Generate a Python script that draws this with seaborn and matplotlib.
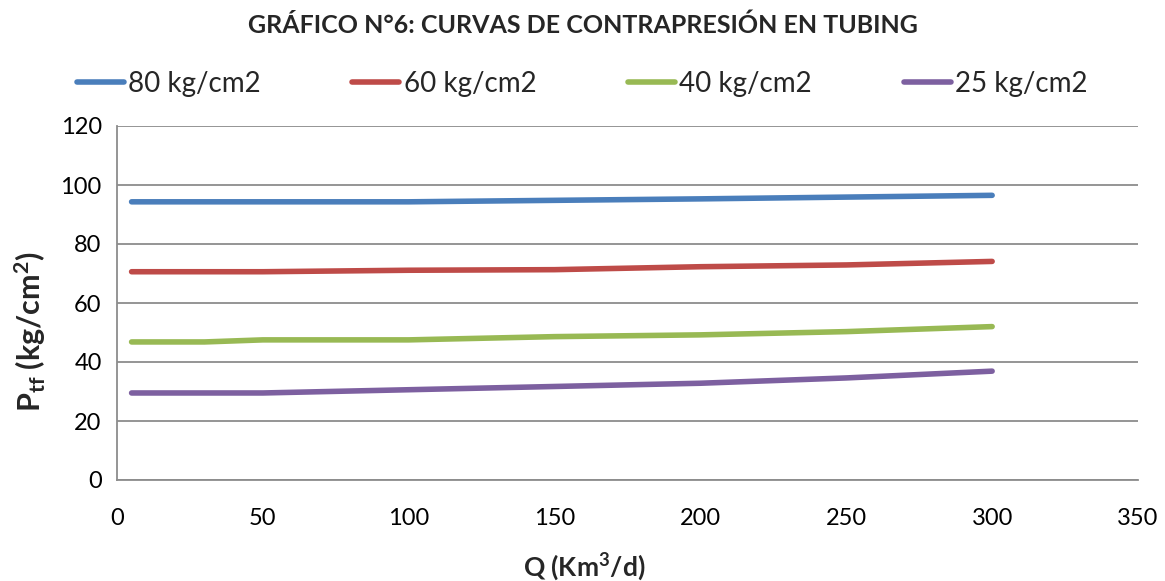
import matplotlib
matplotlib.use("Agg")
import matplotlib.pyplot as plt
import seaborn as sns
import pandas as pd

q = [5, 30, 50, 100, 150, 200, 250, 300]
p80 = [94.3, 94.3, 94.3, 94.3, 94.8, 95.3, 95.9, 96.5]
p60 = [70.6, 70.6, 70.6, 71.1, 71.3, 72.3, 72.9, 74.1]
p40 = [46.8, 46.8, 47.5, 47.5, 48.6, 49.2, 50.3, 52.0]
p25 = [29.5, 29.5, 29.5, 30.6, 31.7, 32.8, 34.6, 36.9]
labels = ["80 kg/cm2", "60 kg/cm2", "40 kg/cm2", "25 kg/cm2"]
colors = ["#4A7EBB", "#BE4B48", "#98B954", "#7D60A0"]

frames = []
for lab, vals in zip(labels, [p80, p60, p40, p25]):
    frames.append(pd.DataFrame({"Q": q, "P": vals, "serie": lab}))
df = pd.concat(frames, ignore_index=True)

sns.set_theme(style="white")
plt.rcParams['font.family'] = ['Lato', 'DejaVu Sans']
plt.rcParams['mathtext.fontset'] = 'custom'
plt.rcParams['mathtext.rm'] = 'Lato'
plt.rcParams['mathtext.bf'] = 'Lato:bold'
plt.rcParams['mathtext.it'] = 'Lato:italic'

fig = plt.figure(figsize=(11.65, 5.81), dpi=100)
ax = fig.add_axes([117/1165, 1 - 480/581, (1138-117)/1165, (480-126)/581])

sns.lineplot(data=df, x="Q", y="P", hue="serie", palette=colors,
             hue_order=labels, linewidth=4, ax=ax, legend=False,
             solid_capstyle="round")

ax.set_xlim(0, 350)
ax.set_ylim(0, 120)
ax.set_xticks(range(0, 351, 50))
ax.set_yticks(range(0, 121, 20))
ax.yaxis.grid(True, color="#8C8C8C", linewidth=1.3)
ax.set_axisbelow(True)
for s in ["top", "right"]:
    ax.spines[s].set_visible(False)
for s in ["left", "bottom"]:
    ax.spines[s].set_color("#8C8C8C")
    ax.spines[s].set_linewidth(1.3)
ax.tick_params(axis="both", direction="out", length=6, width=1.3,
               color="#8C8C8C", labelsize=17, labelcolor="black")
ax.tick_params(axis="x", pad=14)
ax.tick_params(axis="y", pad=5)
ax.set_xlabel("")
ax.set_ylabel("")

fig.text(584/1165, 1 - 567/581, r"Q (Km$\mathbf{^3}$/d)", ha="center", va="center",
         fontsize=19, fontweight="bold")
fig.text(30/1165, 1 - 332/581, r"P$\mathbf{_{tf}}$ (kg/cm$\mathbf{^2}$)", ha="center",
         va="center", rotation=90, fontsize=22, fontweight="bold")

fig.text(583/1165, 1 - 25/581, "GRÁFICO N°6: CURVAS DE CONTRAPRESIÓN EN TUBING",
         ha="center", va="center", fontsize=18, fontweight="bold")

handles = [plt.Line2D([0], [0], color=c, linewidth=4, solid_capstyle="round") for c in colors]
fig.legend(handles, labels, loc="center", bbox_to_anchor=(582/1165, 1 - 84/581),
           ncol=4, frameon=False, fontsize=20, handlelength=1.7,
           handletextpad=0.15, columnspacing=3.3)

fig.savefig("out.png", dpi=100)
